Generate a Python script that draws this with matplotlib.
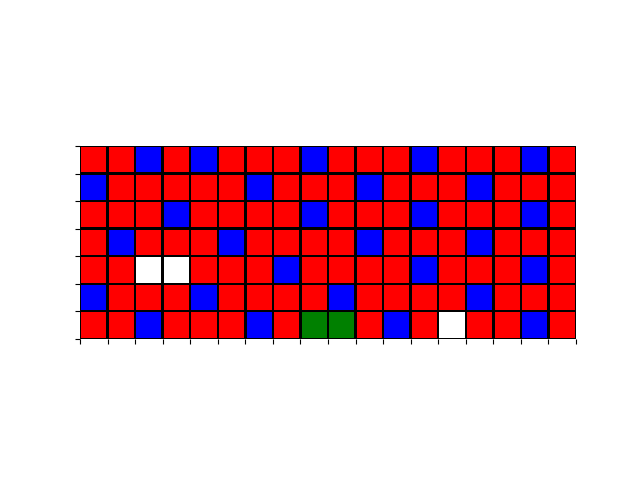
import matplotlib
matplotlib.use("Agg")
import matplotlib.pyplot as plt
import numpy as np
from matplotlib.colors import ListedColormap

# cell codes: W=white, R=red, B=blue, G=green (top row first)
rows = [
    "RRBRBRRRBRRRBRRRBR",
    "BRRRRRBRRRBRRRBRRR",
    "RRRBRRRRBRRRBRRRBR",
    "RBRRRBRRRRBRRRBRRR",
    "RRWWRRRBRRRRBRRRBR",
    "BRRRBRRRRBRRRRBRRR",
    "RRBRRRBRGGRBRWRRBR",
]
codes = {"W": 0, "R": 1, "B": 2, "G": 3}
colors = ["white", "red", "blue", "green"]

grid = np.array([[codes[c] for c in r] for r in rows])
nrows, ncols = grid.shape

fig, ax = plt.subplots(figsize=(6.4, 4.8), dpi=100)
cmap = ListedColormap(colors)
ax.pcolormesh(grid[::-1], cmap=cmap, vmin=-0.5, vmax=3.5,
              edgecolors="black", linewidth=1, snap=False)
ax.set_aspect("equal")
ax.set_xticks(np.arange(ncols + 1))
ax.set_yticks(np.arange(nrows + 1))
ax.set_xticklabels([])
ax.set_yticklabels([])
for s in ax.spines.values():
    s.set_visible(False)

plt.savefig("out.png")
